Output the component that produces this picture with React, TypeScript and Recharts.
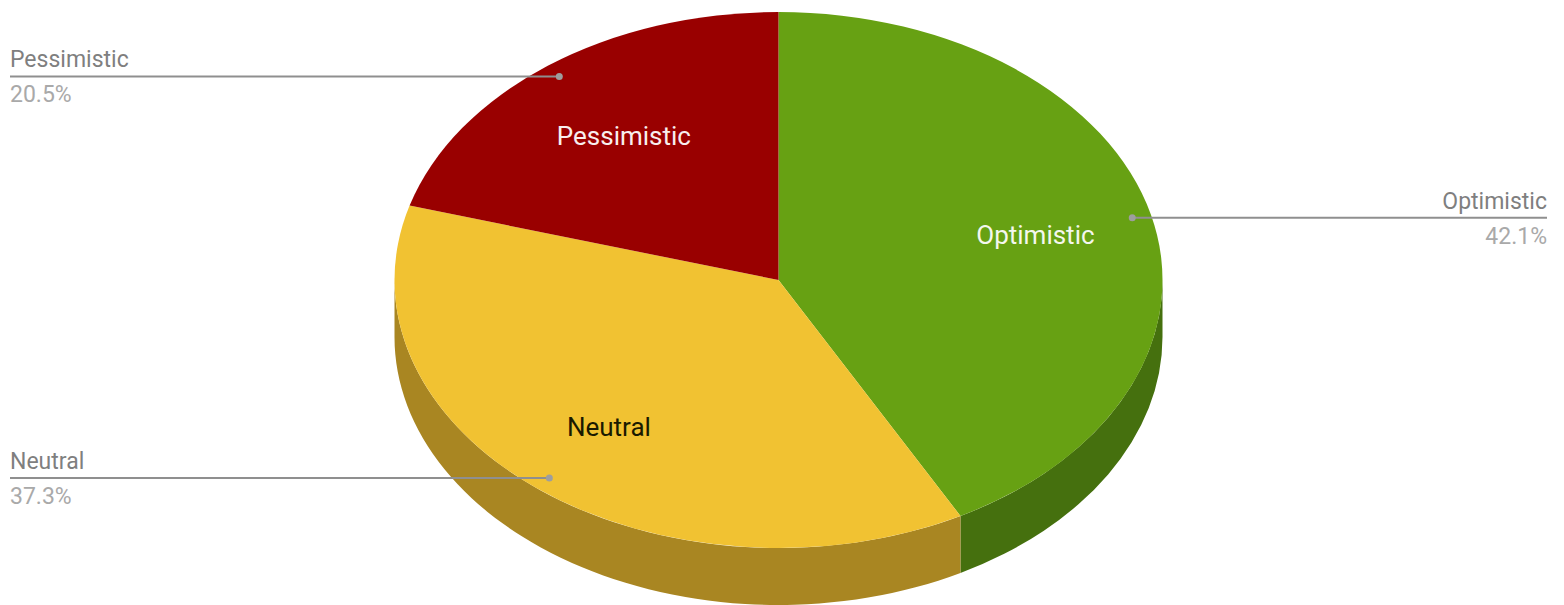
import React from 'react';
import { PieChart, Pie } from 'recharts';

const CATEGORIES = ['Optimistic', 'Neutral', 'Pessimistic'];
const SHARES = [42.1, 37.3, 20.5];
const TOP_COLORS = ['#67a113', '#f1c232', '#990000'];
const WALL_COLORS = ['#45700e', '#a98622', '#6b0000'];
const INNER_LABEL_COLORS = ['#f4f7ee', '#1a1a00', '#f8eeee'];
// how far out along the slice the inner label sits
const INNER_LABEL_REACH = [0.69, 0.703, 0.67];

const WIDTH = 1564;
const HEIGHT = 605;
const CX = 778.5;
const CY = 280;
const RX = 384;
const RY = 268;
const DEPTH = 57;
const FONT = 'Roboto, sans-serif';

const topData = CATEGORIES.map((name, i) => ({
    name,
    value: SHARES[i],
    fill: TOP_COLORS[i],
    inner: INNER_LABEL_COLORS[i],
    reach: INNER_LABEL_REACH[i],
}));
const wallData = CATEGORIES.map((name, i) => ({ name, value: SHARES[i], fill: WALL_COLORS[i] }));

const rad = (deg: number) => (deg * Math.PI) / 180;
const ex = (cx: number, deg: number, f = 1) => cx + RX * f * Math.cos(rad(deg));
const ey = (cy: number, deg: number, f = 1) => cy - RY * f * Math.sin(rad(deg));

// recharts hands out a circular sector, squash it into the tilted ellipse
const TopSlice = (props: any) => {
    const { cx, cy, startAngle, endAngle, fill } = props;
    const large = Math.abs(startAngle - endAngle) > 180 ? 1 : 0;
    const d = `M${cx},${cy} L${ex(cx, startAngle)},${ey(cy, startAngle)} A${RX},${RY} 0 ${large} 1 ${ex(cx, endAngle)},${ey(cy, endAngle)} Z`;
    return <path d={d} fill={fill} />;
};

// side wall only shows on the front half of the pie
const WallSlice = (props: any) => {
    const { cx, cy, startAngle, endAngle, fill } = props;
    const norm = (a: number) => ((a % 360) + 360) % 360;
    const hi = Math.max(startAngle, endAngle);
    const lo = Math.min(startAngle, endAngle);
    const ranges = [[-180, 0], [180, 360], [-540, -360]];
    const paths: string[] = [];
    ranges.forEach(([a, b]) => {
        const from = Math.min(hi, b);
        const to = Math.max(lo, a);
        if (from <= to) return;
        const x0 = ex(cx, norm(from));
        const y0 = ey(cy, norm(from));
        const x1 = ex(cx, norm(to));
        const y1 = ey(cy, norm(to));
        const large = from - to > 180 ? 1 : 0;
        paths.push(`M${x0},${y0} A${RX},${RY} 0 ${large} 1 ${x1},${y1} L${x1},${y1 + DEPTH} A${RX},${RY} 0 ${large} 0 ${x0},${y0 + DEPTH} Z`);
    });
    return <path d={paths.join(' ')} fill={fill} />;
};

const SliceLabel = (props: any) => {
    const { cx, cy, midAngle, name, value, inner, reach } = props;
    const tx = ex(cx, midAngle, reach);
    const ty = ey(cy, midAngle, reach);
    const dotX = ex(cx, midAngle, 0.95);
    const dotY = ey(cy, midAngle, 0.95);
    const right = dotX > cx;
    const edge = right ? 1547 : 10;
    const anchor = right ? 'end' : 'start';
    return (
        <g fontFamily={FONT}>
            <text x={tx} y={ty} fill={inner} fontSize={26} textAnchor="middle" dominantBaseline="central">
                {name}
            </text>
            <line x1={dotX} y1={dotY} x2={edge} y2={dotY} stroke="#8f8f8f" strokeWidth={2} />
            <circle cx={dotX} cy={dotY} r={3.5} fill="#9e9e9e" />
            <text x={edge} y={dotY - 9} fill="#7f7f7f" fontSize={23} textAnchor={anchor}>
                {name}
            </text>
            <text x={edge} y={dotY + 26} fill="#a9a9a9" fontSize={23} textAnchor={anchor}>
                {`${value}%`}
            </text>
        </g>
    );
};

export default function App() {
    return (
        <div style={{ position: 'absolute', left: 0, top: 0, width: WIDTH, height: HEIGHT, background: '#fff' }}>
            <PieChart width={WIDTH} height={HEIGHT} margin={{ top: 0, right: 0, bottom: 0, left: 0 }}>
                <Pie
                    data={wallData}
                    dataKey="value"
                    nameKey="name"
                    cx={CX}
                    cy={CY}
                    outerRadius={RX}
                    startAngle={90}
                    endAngle={-270}
                    stroke="none"
                    shape={WallSlice}
                    isAnimationActive={false}
                />
                <Pie
                    data={topData}
                    dataKey="value"
                    nameKey="name"
                    cx={CX}
                    cy={CY}
                    outerRadius={RX}
                    startAngle={90}
                    endAngle={-270}
                    stroke="none"
                    shape={TopSlice}
                    label={SliceLabel}
                    labelLine={false}
                    isAnimationActive={false}
                />
            </PieChart>
        </div>
    );
}
